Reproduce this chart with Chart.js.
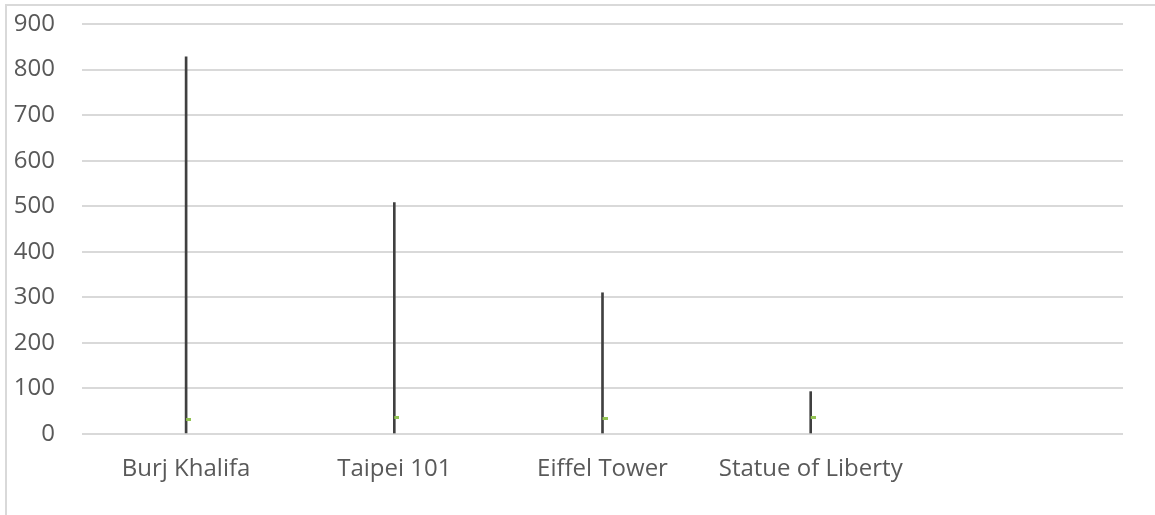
<!DOCTYPE html>
<html>
<head>
<meta charset="utf-8">
<script src="https://cdn.jsdelivr.net/npm/chart.js@4"></script>
<style>
  body { margin: 0; background: #fff; overflow: hidden; }
  #wrap { position: relative; width: 1155px; height: 515px; }
  #frame {
    position: absolute; left: 5px; top: 4px; width: 1200px; height: 600px;
    border-top: 2px solid #d9d9d9; border-left: 2px solid #d9d9d9;
  }
  #chart { position: absolute; left: 0; top: 0; }
</style>
</head>
<body>
<div id="wrap">
  <div id="frame"></div>
  <canvas id="chart" width="1155" height="515"></canvas>
</div>
<script>
// landmarks and their heights (m); last slot is an empty category
const landmarks = ["Burj Khalifa", "Taipei 101", "Eiffel Tower", "Statue of Liberty", ""];
const heights = [828, 508, 310, 93, null];
const markerValues = [31, 37, 34, 37, null];
const yTicks = [0, 100, 200, 300, 400, 500, 600, 700, 800, 900];

// small green dash, sitting to the right of each line
function makeMarker() {
  const c = document.createElement("canvas");
  c.width = 10;
  c.height = 3;
  const ctx = c.getContext("2d");
  ctx.fillStyle = "#92c353";
  ctx.fillRect(5, 0, 5, 3);
  return c;
}

const yFont = { family: "'Open Sans', sans-serif", size: 24 };
const xFont = { family: "'Open Sans', sans-serif", size: 24 };

new Chart(document.getElementById("chart"), {
  type: "bar",
  data: {
    labels: landmarks,
    datasets: [
      {
        label: "Height",
        data: heights,
        backgroundColor: "#404040",
        barThickness: 2,
        order: 1,
      },
      {
        type: "line",
        label: "Marker",
        data: markerValues,
        showLine: false,
        pointStyle: makeMarker(),
        order: 0,
      },
    ],
  },
  options: {
    responsive: false,
    animation: false,
    layout: { autoPadding: false, padding: { top: 24, right: 32, left: 0, bottom: 0 } },
    plugins: { legend: { display: false }, tooltip: { enabled: false } },
    scales: {
      x: {
        grid: { display: false, drawTicks: false },
        border: { display: false },
        ticks: { color: "#595959", font: xFont, padding: 21, maxRotation: 0 },
        afterFit: (scale) => { scale.height = 81; },
      },
      y: {
        min: yTicks[0],
        max: yTicks[yTicks.length - 1],
        afterBuildTicks: (scale) => { scale.ticks = yTicks.map((v) => ({ value: v })); },
        grid: { color: "#d9d9d9", lineWidth: 2, drawTicks: false },
        border: { display: false },
        ticks: { color: "#595959", font: yFont, padding: 27 },
        afterFit: (scale) => {
          scale.width = 82;
          scale.paddingTop = 0;
          scale.paddingBottom = 0;
        },
      },
    },
  },
});
</script>
</body>
</html>
